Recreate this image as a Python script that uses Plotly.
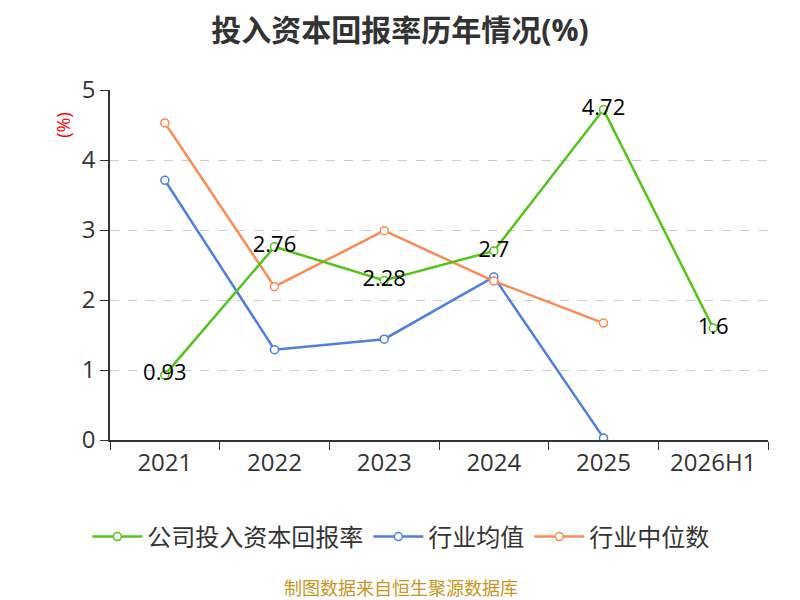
import plotly.graph_objects as go

years = ['2021', '2022', '2023', '2024', '2025', '2026H1']
company_roic = [0.93, 2.76, 2.28, 2.7, 4.72, 1.6]
industry_mean = [3.71, 1.29, 1.44, 2.33, 0.03]
industry_median = [4.53, 2.19, 2.99, 2.27, 1.67]

font_family = 'Open Sans, Noto Sans CJK SC'

fig = go.Figure()

# 行业均值
fig.add_trace(go.Scatter(
    x=years[:5], y=industry_mean, name='行业均值', legendrank=2,
    mode='lines+markers',
    line=dict(color='#4e7fe0', width=2.5),
    marker=dict(symbol='circle', size=8, color='white',
                line=dict(color='#4e7fe0', width=1.5)),
))

# 行业中位数
fig.add_trace(go.Scatter(
    x=years[:5], y=industry_median, name='行业中位数', legendrank=3,
    mode='lines+markers',
    line=dict(color='#fc8a52', width=2.5),
    marker=dict(symbol='circle', size=8, color='white',
                line=dict(color='#fc8a52', width=1.5)),
))

# 公司投入资本回报率
fig.add_trace(go.Scatter(
    x=years, y=company_roic, name='公司投入资本回报率', legendrank=1,
    mode='lines+markers+text',
    text=[str(v) for v in company_roic],
    textposition='middle center',
    textfont=dict(size=22, color='#000000', family=font_family),
    line=dict(color='#52c41a', width=2.5),
    marker=dict(symbol='circle', size=8, color='white',
                line=dict(color='#52c41a', width=1.5)),
))

fig.update_layout(
    width=800, height=600,
    paper_bgcolor='white', plot_bgcolor='white',
    font=dict(family=font_family, color='#333333'),
    margin=dict(l=102, r=40, t=82, b=168),
    title=dict(text='<b>投入资本回报率历年情况(%)</b>', x=0.49, xanchor='center',
               y=0.963, yanchor='middle', font=dict(size=30, color='#333333')),
    showlegend=True,
    legend=dict(orientation='h', x=0.442, xanchor='center', y=-0.277, yanchor='middle',
                font=dict(size=24, color='#333333'), itemwidth=50),
    xaxis=dict(
        type='category', categoryorder='array', categoryarray=years,
        showline=True, linecolor='#333333', linewidth=1.5,
        ticks='outside', ticklen=8, tickcolor='#333333', tickson='boundaries',
        tickfont=dict(size=24, color='#333333'),
        showgrid=False, range=[-0.5, 5.5],
    ),
    yaxis=dict(
        range=[0, 5], dtick=1,
        showline=True, linecolor='#333333', linewidth=1.5,
        ticks='outside', ticklen=8, tickcolor='#333333',
        tickfont=dict(size=24, color='#333333'),
        showgrid=True, gridcolor='#cccccc', griddash='dash', gridwidth=1,
        zeroline=False,
    ),
)

fig.add_annotation(
    text='(%)', textangle=-90, xref='paper', yref='paper',
    x=-0.093, y=0.9, showarrow=False, yanchor='middle',
    font=dict(size=18, color='#ff0000'),
)

fig.add_annotation(
    text='制图数据来自恒生聚源数据库', xref='paper', yref='paper',
    x=0.442, xanchor='center', y=-0.423, yanchor='middle', showarrow=False,
    font=dict(size=18, color='#c8961e'),
)

fig.write_html('out.html')
